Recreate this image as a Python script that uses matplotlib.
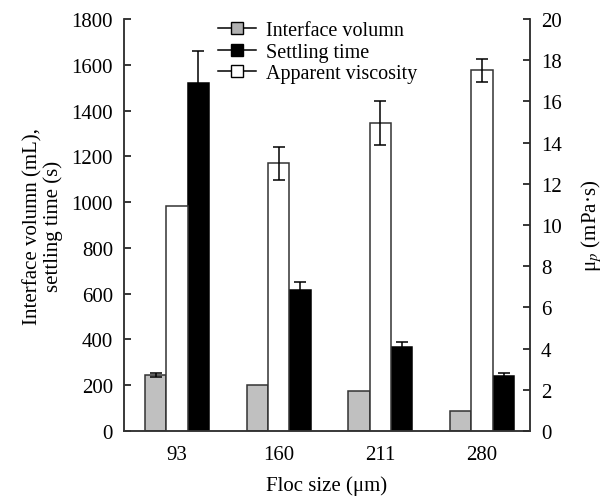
import matplotlib
matplotlib.use("Agg")
import matplotlib.pyplot as plt
from matplotlib.lines import Line2D
import numpy as np

plt.rcParams['font.family'] = ['Liberation Serif', 'DejaVu Serif']
plt.rcParams['mathtext.fontset'] = 'stix'

categories = ['93', '160', '211', '280']
interface_volume = [245, 200, 176, 88]
interface_err = [8, np.nan, np.nan, np.nan]
settling_time = [1522, 616, 366, 242]
settling_err = [140, 36, 22, 10]
viscosity = [10.9, 13.0, 14.95, 17.5]
viscosity_err = [np.nan, 0.8, 1.05, 0.55]

fig = plt.figure(figsize=(6.13, 5.02), dpi=100)
ax = fig.add_axes([0.2023, 0.1394, 0.6623, 0.8208])
ax2 = ax.twinx()

x = np.arange(len(categories))
w = 0.21
ekw = dict(ecolor='black', elinewidth=1.1, capsize=4.5, capthick=1.1)

ax.bar(x - w, interface_volume, w, color='#c0c0c0', edgecolor='#333333', linewidth=1.1,
       zorder=2)
ax.errorbar(x - w, interface_volume, yerr=interface_err, fmt='none', **ekw)
ax.bar(x + w, settling_time, w, color='black', edgecolor='black', linewidth=1.1,
       zorder=2)
ax.errorbar(x + w, settling_time, yerr=settling_err, fmt='none', **ekw)
ax2.bar(x, viscosity, w, color='white', edgecolor='#333333', linewidth=1.1, zorder=2)
ax2.errorbar(x, viscosity, yerr=viscosity_err, fmt='none', **ekw)

ax.set_xlim(-0.52, 3.47)
ax.set_ylim(0, 1800)
ax2.set_ylim(0, 20)
ax.set_yticks(np.arange(0, 1801, 200))
ax2.set_yticks(np.arange(0, 21, 2))
ax.set_xticks(x)
ax.set_xticklabels(categories)

for a in (ax, ax2):
    a.spines['top'].set_visible(False)
    for s in a.spines.values():
        s.set_linewidth(1.1)
        s.set_color('#333333')
ax.tick_params(axis='y', direction='in', length=5, width=1.1, labelsize=15, pad=8)
ax2.tick_params(axis='y', direction='in', length=5, width=1.1, labelsize=15, pad=8)
ax.tick_params(axis='x', length=0, labelsize=15, pad=10)

ax.set_xlabel('Floc size (μm)', fontsize=15, labelpad=8)
ax.set_ylabel('Interface volumn (mL),\nsettling time (s)', fontsize=15, labelpad=6,
              linespacing=1.05)
ax2.set_ylabel('μ$_p$ (mPa·s)', fontsize=15, labelpad=12)

handles = [
    Line2D([], [], color='black', lw=1.1, marker='s', markersize=8,
           markerfacecolor='#b0b0b0', markeredgecolor='black'),
    Line2D([], [], color='black', lw=1.1, marker='s', markersize=8,
           markerfacecolor='black', markeredgecolor='black'),
    Line2D([], [], color='black', lw=1.1, marker='s', markersize=8,
           markerfacecolor='white', markeredgecolor='black'),
]
labels = ['Interface volumn', 'Settling time', 'Apparent viscosity']
fig.legend(handles, labels, loc='upper left', bbox_to_anchor=(0.342, 0.972),
           frameon=False, fontsize=14.5, handlelength=1.9, handletextpad=0.5,
           labelspacing=0.12, borderaxespad=0)

fig.savefig('out.png', dpi=100)
